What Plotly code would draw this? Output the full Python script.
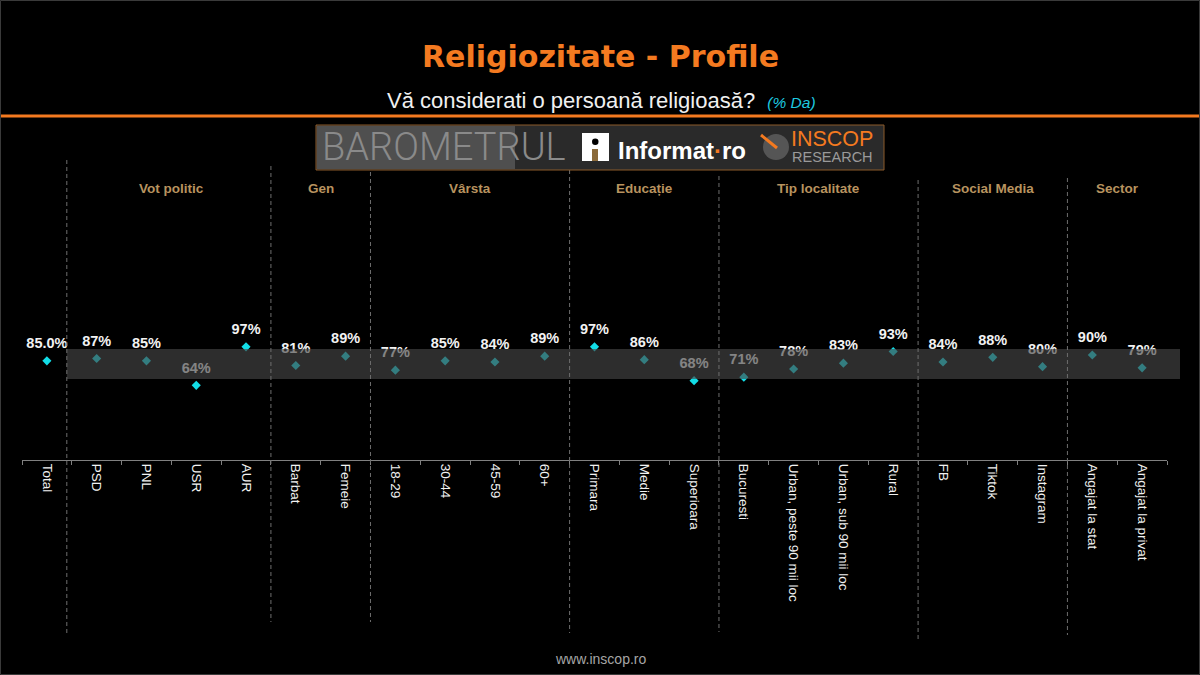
import plotly.graph_objects as go

# Data (percent "Da")
categories = ["Total", "PSD", "PNL", "USR", "AUR", "Barbat", "Femeie",
              "18-29", "30-44", "45-59", "60+", "Primara", "Medie", "Superioara",
              "Bucuresti", "Urban, peste 90 mii loc", "Urban, sub 90 mii loc", "Rural",
              "FB", "Tiktok", "Instagram", "Angajat la stat", "Angajat la privat"]
values = [85.0, 87, 85, 64, 97, 81, 89, 77, 85, 84, 89, 97, 86, 68,
          71, 78, 83, 93, 84, 88, 80, 90, 79]
value_labels = ["85.0%"] + [f"{v:.0f}%" for v in values[1:]]

groups = ["Vot politic", "Gen", "Vârsta", "Educație", "Tip localitate", "Social Media", "Sector"]
group_sizes = [4, 2, 4, 3, 4, 3, 2]

band_low, band_high = 69.5, 95.2

# Colours
ORANGE = "#f47a20"
CYAN = "#12dde6"
HEADER = "#b8935f"
GRAY = "#808080"

# Plot area in pixels (1200 x 675 page)
W, H = 1200, 675
PX_L, PX_R, PX_T, PX_B = 22, 1167, 180, 460
n = len(categories)


def px_x(px):
    return (px - PX_L) / (PX_R - PX_L)


def px_y(py):
    return (PX_B - py) / (PX_B - PX_T)


def cat_x(pos):
    # category index -> paper x
    return (pos + 0.5) / n


fig = go.Figure()

# markers
fig.add_trace(go.Scatter(
    x=categories, y=values, mode="markers",
    marker=dict(symbol="diamond", size=7, color=CYAN, line=dict(width=0)),
    hoverinfo="skip", cliponaxis=False,
))

# value labels (invisible marker only pushes text upward)
fig.add_trace(go.Scatter(
    x=categories, y=values, mode="markers+text",
    marker=dict(size=13, color="rgba(0,0,0,0)"),
    text=value_labels, textposition="top center",
    textfont=dict(family="Liberation Sans, Arial", size=14.5, color="#f2f2f2", weight="bold"),
    hoverinfo="skip", cliponaxis=False,
))

shapes = []

# grey band laid over the points
shapes.append(dict(type="rect", xref="paper", yref="y",
                   x0=cat_x(0.4), x1=px_x(1180), y0=band_low, y1=band_high,
                   fillcolor="rgba(70,70,70,0.64)", line=dict(width=0), layer="above"))

# dashed group separators
bounds = []
pos = 0
for size in group_sizes:
    bounds.append(pos + 0.5)
    pos += size
bounds[0] -= 0.1
sep_tops = [160, 166, 172, 170, 176, 180, 178]
sep_bottoms = [633, 622, 622, 633, 632, 642, 635]
for b, t, bt in zip(bounds, sep_tops, sep_bottoms):
    shapes.append(dict(type="line", xref="paper", yref="paper",
                       x0=cat_x(b), x1=cat_x(b), y0=px_y(t), y1=px_y(bt),
                       line=dict(color="#6e6e6e", width=1, dash="4px,3px"), layer="above"))

# orange rule under subtitle
shapes.append(dict(type="line", xref="paper", yref="paper",
                   x0=px_x(0), x1=px_x(W), y0=px_y(116), y1=px_y(116),
                   line=dict(color=ORANGE, width=3)))

# logo strip
shapes.append(dict(type="rect", xref="paper", yref="paper",
                   x0=px_x(316), x1=px_x(884), y0=px_y(125), y1=px_y(170),
                   fillcolor="#2a2a2a", line=dict(color="#8b5a2b", width=1)))
shapes.append(dict(type="rect", xref="paper", yref="paper",
                   x0=px_x(317), x1=px_x(515), y0=px_y(126), y1=px_y(169),
                   fillcolor="#4f4f4f", line=dict(width=0)))
shapes.append(dict(type="rect", xref="paper", yref="paper",
                   x0=px_x(582), x1=px_x(609), y0=px_y(133), y1=px_y(161),
                   fillcolor="#ffffff", line=dict(width=0)))
shapes.append(dict(type="circle", xref="paper", yref="paper",
                   x0=px_x(592), x1=px_x(598.5), y0=px_y(138.5), y1=px_y(145),
                   fillcolor="#000000", line=dict(width=0)))
shapes.append(dict(type="rect", xref="paper", yref="paper",
                   x0=px_x(592), x1=px_x(598), y0=px_y(149), y1=px_y(161),
                   fillcolor="#8b6a3a", line=dict(width=0)))
shapes.append(dict(type="circle", xref="paper", yref="paper",
                   x0=px_x(763), x1=px_x(789), y0=px_y(134), y1=px_y(160),
                   fillcolor="#555555", line=dict(width=0)))
shapes.append(dict(type="line", xref="paper", yref="paper",
                   x0=px_x(761), x1=px_x(777), y0=px_y(135), y1=px_y(148),
                   line=dict(color=ORANGE, width=3)))

# faint frame round the slide
shapes.append(dict(type="rect", xref="paper", yref="paper",
                   x0=px_x(0.5), x1=px_x(W - 0.5), y0=px_y(0.5), y1=px_y(H - 0.5),
                   line=dict(color="#3a3a3a", width=1)))

annotations = []


def note(text, x, y, size, color, family="Liberation Sans, Arial", weight="normal",
         xanchor="center", xref="paper"):
    annotations.append(dict(text=text, x=x, y=px_y(y), xref=xref, yref="paper",
                            xanchor=xanchor, yanchor="middle", showarrow=False,
                            font=dict(family=family, size=size, color=color, weight=weight)))


note("Religiozitate - Profile", px_x(600), 56, 30, ORANGE, family="DejaVu Sans", weight="bold")
note("Vă considerati o persoană religioasă?\u00a0 "
     "<i><span style='font-size:15.5px;color:#1ecbe1'>(% Da)</span></i>",
     px_x(601), 101, 22, "#f0f0f0")
note("www.inscop.ro", px_x(600), 659, 14, "#a6a6a6")

# logo texts
note("BAROMETRUL", px_x(320), 147, 38, "#8a8a8a", family="Roboto", weight=300, xanchor="left")
note("Informat<span style='color:#f47a20'>·</span>ro", px_x(616), 151, 24, "#ffffff",
     weight="bold", xanchor="left")
note("INSCOP", px_x(789), 139, 21.5, ORANGE, xanchor="left")
note("RESEARCH", px_x(790), 157, 14.5, "#9a9a9a", xanchor="left")

# group headers centred over their categories
pos = 1
for g, size in zip(groups, group_sizes):
    note(g, pos + (size - 1) / 2, 188, 13.5, HEADER, weight="bold", xref="x")
    pos += size

fig.update_layout(
    width=W, height=H,
    margin=dict(l=PX_L, r=W - PX_R, t=PX_T, b=H - PX_B, pad=0),
    paper_bgcolor="#000000", plot_bgcolor="#000000",
    showlegend=False,
    shapes=shapes, annotations=annotations,
    xaxis=dict(
        type="category", range=[-0.5, n - 0.5],
        showgrid=False, zeroline=False,
        showline=True, linecolor=GRAY, linewidth=1,
        ticks="outside", tickson="boundaries", ticklen=4, tickcolor=GRAY,
        tickangle=90,
        tickfont=dict(family="Liberation Sans, Arial", size=13.5, color="#f2f2f2"),
    ),
    yaxis=dict(range=[0, 240], visible=False, fixedrange=True),
)

# the page's default body margin would shift the slide by 8px
fig.write_html("out.html", config={"displayModeBar": False},
               post_script="document.body.style.margin='0';")
